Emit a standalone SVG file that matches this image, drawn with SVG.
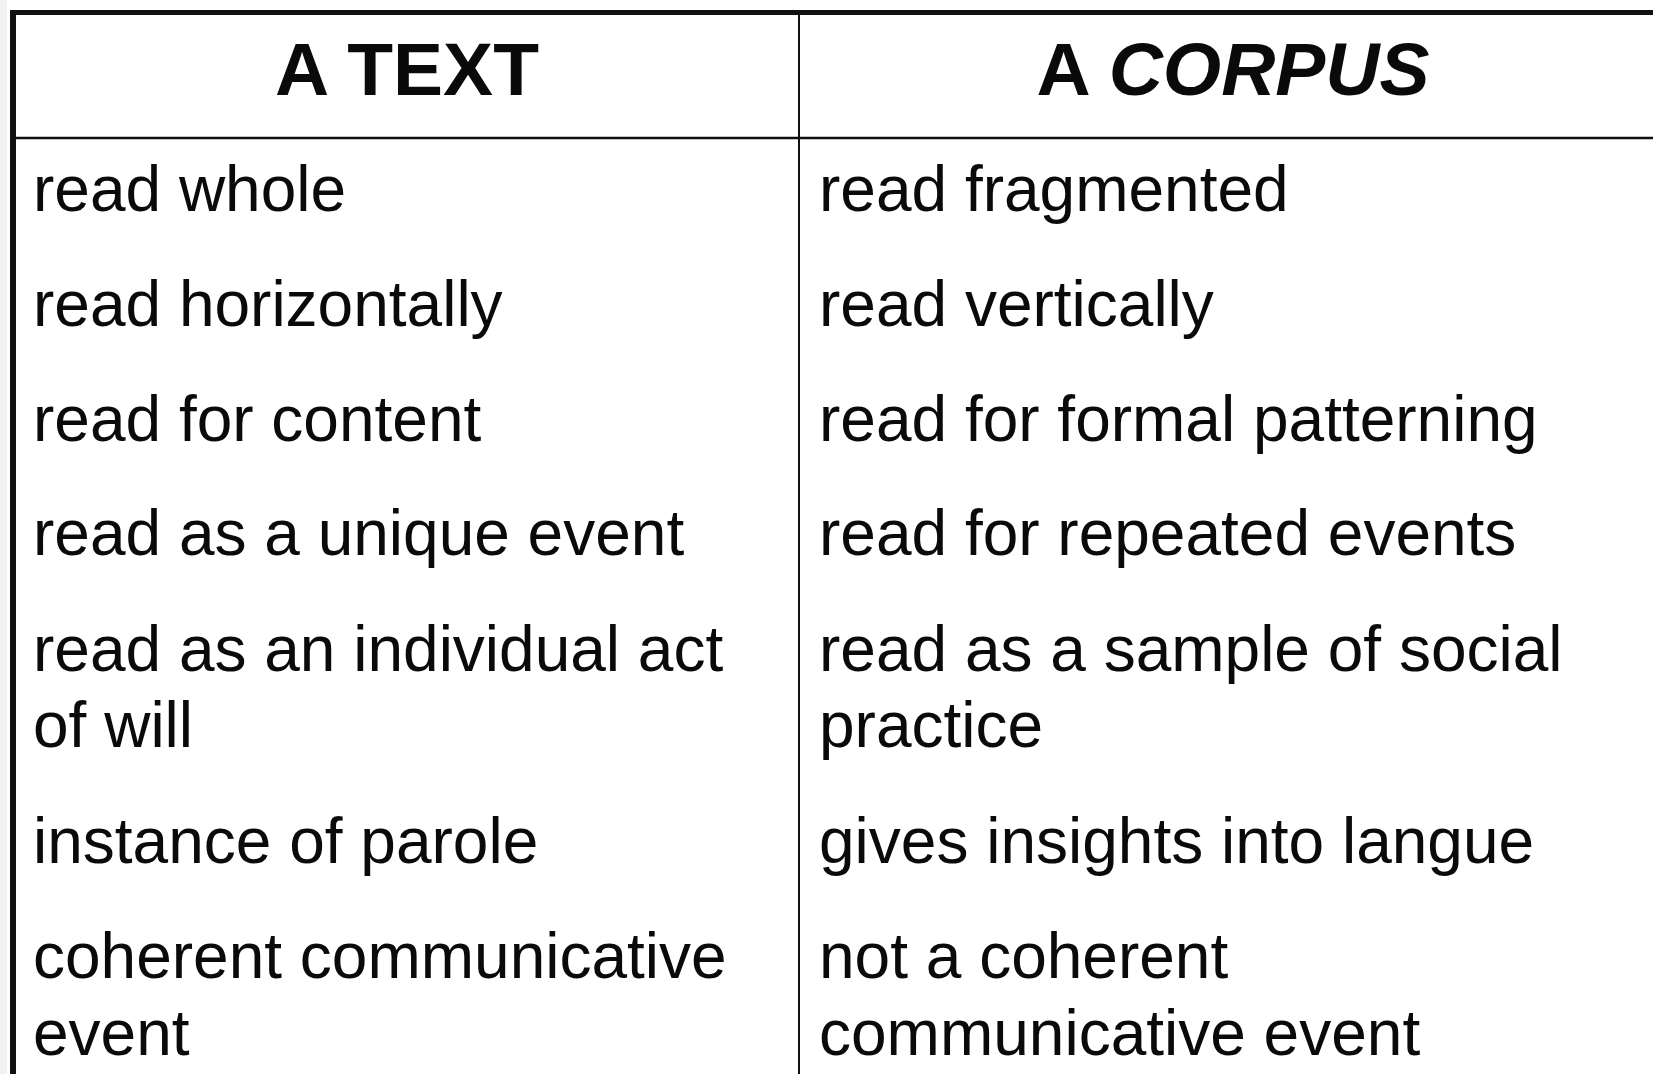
<svg xmlns="http://www.w3.org/2000/svg" width="1653" height="1074" viewBox="0 0 1653 1074">
  <style>
    .hd { font-family: "Liberation Sans", Arial, sans-serif; font-size: 75px; font-weight: bold; fill: #0a0a0a; text-anchor: middle; }
    .tx { font-family: "Liberation Sans", Arial, sans-serif; font-size: 64px; fill: #0a0a0a; }
    .ln { stroke: #111; fill: none; }
  </style>
  <rect x="0" y="0" width="1653" height="1074" fill="#ffffff"/>
  <rect x="0" y="0" width="7" height="1074" fill="#f1f1f1"/>
  <g id="grid">
    <line class="ln" x1="10" y1="12.5" x2="1653" y2="12.5" stroke-width="5"/>
    <line class="ln" x1="13" y1="10" x2="13" y2="1074" stroke-width="6"/>
    <line class="ln" x1="13" y1="138" x2="1653" y2="138" stroke-width="2.5"/>
    <line class="ln" x1="799" y1="13" x2="799" y2="1074" stroke-width="2"/>
  </g>
  <g id="header-text"><text class="hd" x="407" y="95">A TEXT</text></g>
  <g id="header-corpus"><text class="hd" x="1233" y="95">A <tspan font-style="italic">CORPUS</tspan></text></g>
  <g id="left-col">
    <text class="tx" x="33" y="211">read whole</text>
    <text class="tx" x="33" y="326">read horizontally</text>
    <text class="tx" x="33" y="441">read for content</text>
    <text class="tx" x="33" y="555">read as a unique event</text>
    <text class="tx" x="33" y="671">read as an individual act</text>
    <text class="tx" x="33" y="747">of will</text>
    <text class="tx" x="33" y="863">instance of parole</text>
    <text class="tx" x="33" y="978">coherent communicative</text>
    <text class="tx" x="33" y="1055">event</text>
  </g>
  <g id="right-col">
    <text class="tx" x="819" y="211">read fragmented</text>
    <text class="tx" x="819" y="326">read vertically</text>
    <text class="tx" x="819" y="441">read for formal patterning</text>
    <text class="tx" x="819" y="555">read for repeated events</text>
    <text class="tx" x="819" y="671">read as a sample of social</text>
    <text class="tx" x="819" y="747">practice</text>
    <text class="tx" x="819" y="863">gives insights into langue</text>
    <text class="tx" x="819" y="978">not a coherent</text>
    <text class="tx" x="819" y="1055">communicative event</text>
  </g>
</svg>
